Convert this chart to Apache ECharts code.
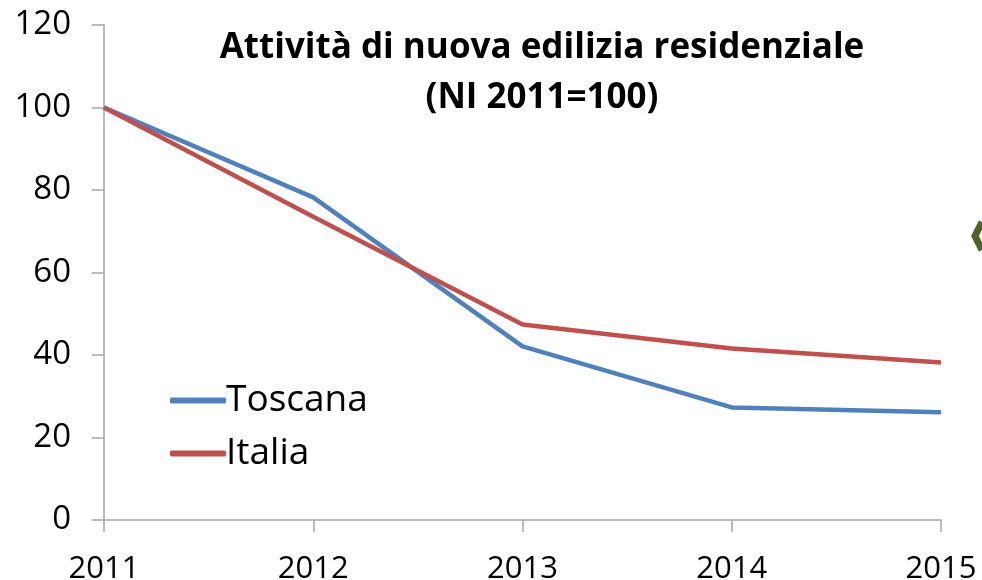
<!DOCTYPE html>
<html>
<head>
<meta charset="utf-8">
<script src="https://cdn.jsdelivr.net/npm/echarts@6/dist/echarts.min.js"></script>
<style>
  html, body { margin: 0; padding: 0; background: #fff; }
  #chart { width: 982px; height: 580px; }
</style>
</head>
<body>
<div id="chart"></div>
<script>
const years = ['2011', '2012', '2013', '2014', '2015']
const toscana = [100, 78.2, 42.1, 27.3, 26.1]
const italia = [100, 73.5, 47.4, 41.6, 38.2]
const yTicks = [0, 20, 40, 60, 80, 100, 120]

const font = '"Open Sans", Lato, sans-serif'
const axisGray = '#a6a6a6'

const chart = echarts.init(document.getElementById('chart'), null, { renderer: 'canvas' })

chart.setOption({
  backgroundColor: '#fff',
  animation: false,
  textStyle: { fontFamily: font },
  title: {
    text: 'Attività di nuova edilizia residenziale\n(NI 2011=100)',
    left: 537,
    top: 18,
    textAlign: 'center',
    textStyle: {
      fontFamily: font,
      fontSize: 35,
      fontWeight: 'bold',
      color: '#000',
      lineHeight: 50,
    },
  },
  legend: {
    orient: 'vertical',
    left: 165,
    top: 377,
    itemWidth: 56,
    itemHeight: 6,
    itemGap: 16,
    icon: 'roundRect',
    textStyle: { fontFamily: font, fontSize: 37, color: '#000', padding: [0, 0, 0, -5] },
    data: ['Toscana', 'Italia'],
  },
  grid: { left: 104, right: 41, top: 25, bottom: 60, containLabel: false, outerBoundsMode: 'none' },
  xAxis: {
    type: 'category',
    data: years,
    boundaryGap: false,
    axisLine: { lineStyle: { color: axisGray, width: 1.5 } },
    axisTick: { show: true, length: 12, lineStyle: { color: axisGray, width: 1.5 } },
    axisLabel: { color: '#000', fontSize: 31, fontFamily: font, margin: 34 },
    splitLine: { show: false },
  },
  yAxis: {
    type: 'value',
    min: yTicks[0],
    max: yTicks[yTicks.length - 1],
    interval: 20,
    axisLine: { show: true, lineStyle: { color: axisGray, width: 1.5 } },
    axisTick: { show: true, length: 12, lineStyle: { color: axisGray, width: 1.5 } },
    axisLabel: { color: '#000', fontSize: 33, fontFamily: font, margin: 33 },
    splitLine: { show: false },
  },
  series: [
    {
      name: 'Toscana',
      type: 'line',
      data: toscana,
      showSymbol: false,
      symbol: 'none',
      lineStyle: { color: '#4f81bd', width: 4.5 },
      itemStyle: { color: '#4f81bd' },
    },
    {
      name: 'Italia',
      type: 'line',
      data: italia,
      showSymbol: false,
      symbol: 'none',
      lineStyle: { color: '#c0504d', width: 4.5 },
      itemStyle: { color: '#c0504d' },
    },
  ],
  graphic: [
    {
      type: 'polyline',
      shape: { points: [[982, 222], [975, 236], [982, 250]] },
      style: { stroke: '#4f6228', lineWidth: 7, fill: null },
    },
  ],
})
</script>
</body>
</html>
